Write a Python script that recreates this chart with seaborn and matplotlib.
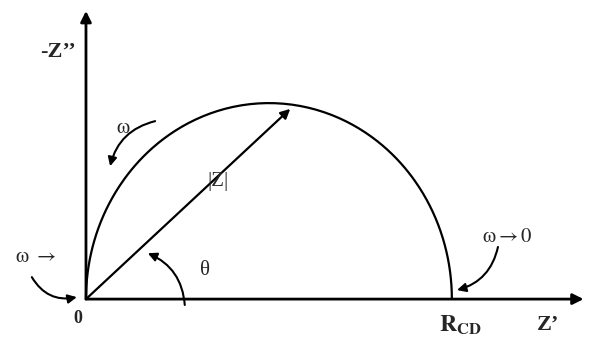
import numpy as np
import pandas as pd
import seaborn as sns
import matplotlib.pyplot as plt

# Nyquist plot of a parallel RC element (schematic)
R_CD = 1.0          # charge-transfer resistance (arbitrary units)
C_DL = 1.0          # double layer capacity
omega = np.logspace(-3, 3, 600)
theta_deg = 41      # phase angle of the |Z| vector

Z = R_CD / (1 + 1j * omega * R_CD * C_DL)
data = pd.DataFrame({'Zre': Z.real, 'Zim': -Z.imag})

# tip of |Z| vector on the semicircle
tan_t = np.tan(np.radians(theta_deg))
z_tip = (R_CD / (1 + tan_t**2) * 0.98, R_CD * tan_t / (1 + tan_t**2) * 0.98)

sns.set_style('white')
plt.rcParams['font.family'] = ['Liberation Serif', 'DejaVu Serif']
plt.rcParams['mathtext.fontset'] = 'stix'

fig = plt.figure(figsize=(5.92, 3.43), dpi=100)
ax = fig.add_axes([0, 0, 1, 1])
ax.set_xlim(-0.235, 1.383)
ax.set_ylim(-0.112, 0.763)
ax.axis('off')

sns.lineplot(data=data, x='Zre', y='Zim', sort=False, color='black', lw=1.6, ax=ax)

# axes with arrows
ax_kw = dict(arrowstyle='-|>', color='black', lw=2.0, mutation_scale=16, shrinkA=0, shrinkB=0)
ax.annotate('', xy=(0, 0.735), xytext=(0, 0), arrowprops=ax_kw)
ax.annotate('', xy=(1.36, 0), xytext=(0, 0), arrowprops=ax_kw)

# |Z| vector
ax.annotate('', xy=z_tip, xytext=(0, 0),
            arrowprops=dict(arrowstyle='-|>', color='black', lw=1.6, mutation_scale=14, shrinkA=0, shrinkB=0))

def curved(start, end, rad):
    ax.annotate('', xy=end, xytext=start,
                arrowprops=dict(arrowstyle='-|>', color='black', lw=1.5, mutation_scale=13,
                                shrinkA=0, shrinkB=0, connectionstyle='arc3,rad=%s' % rad))

curved((0.189, 0.454), (0.066, 0.339), 0.3)
curved((-0.148, 0.056), (-0.025, 0.005), 0.35)
curved((1.126, 0.133), (1.014, 0.023), -0.3)
curved((0.270, -0.015), (0.169, 0.117), 0.3)

# labels
ax.text(-0.077, 0.630, '-Z’’', fontsize=16, fontweight='bold', ha='center', va='center')
ax.text(-0.022, -0.050, '0', fontsize=13, fontweight='bold', ha='center', va='center')
ax.text(1.022, -0.066, r'$\mathbf{R_{CD}}$', fontsize=17, ha='center', va='center')
ax.text(1.262, -0.066, 'Z’', fontsize=16, fontweight='bold', ha='center', va='center')
ax.text(0.361, 0.301, '|Z|', fontsize=15, ha='center', va='center')
ax.text(0.325, 0.074, 'θ', fontsize=15, ha='center', va='center')
ax.text(0.101, 0.436, r'$\mathrm{\omega}$', fontsize=15, ha='center', va='center')
ax.text(-0.139, 0.105, r'$\mathrm{\omega}\ \rightarrow$', fontsize=15, ha='center', va='center')
ax.text(1.150, 0.158, r'$\mathrm{\omega}\rightarrow\mathrm{0}$', fontsize=15, ha='center', va='center')

plt.savefig('out.png', dpi=100)
